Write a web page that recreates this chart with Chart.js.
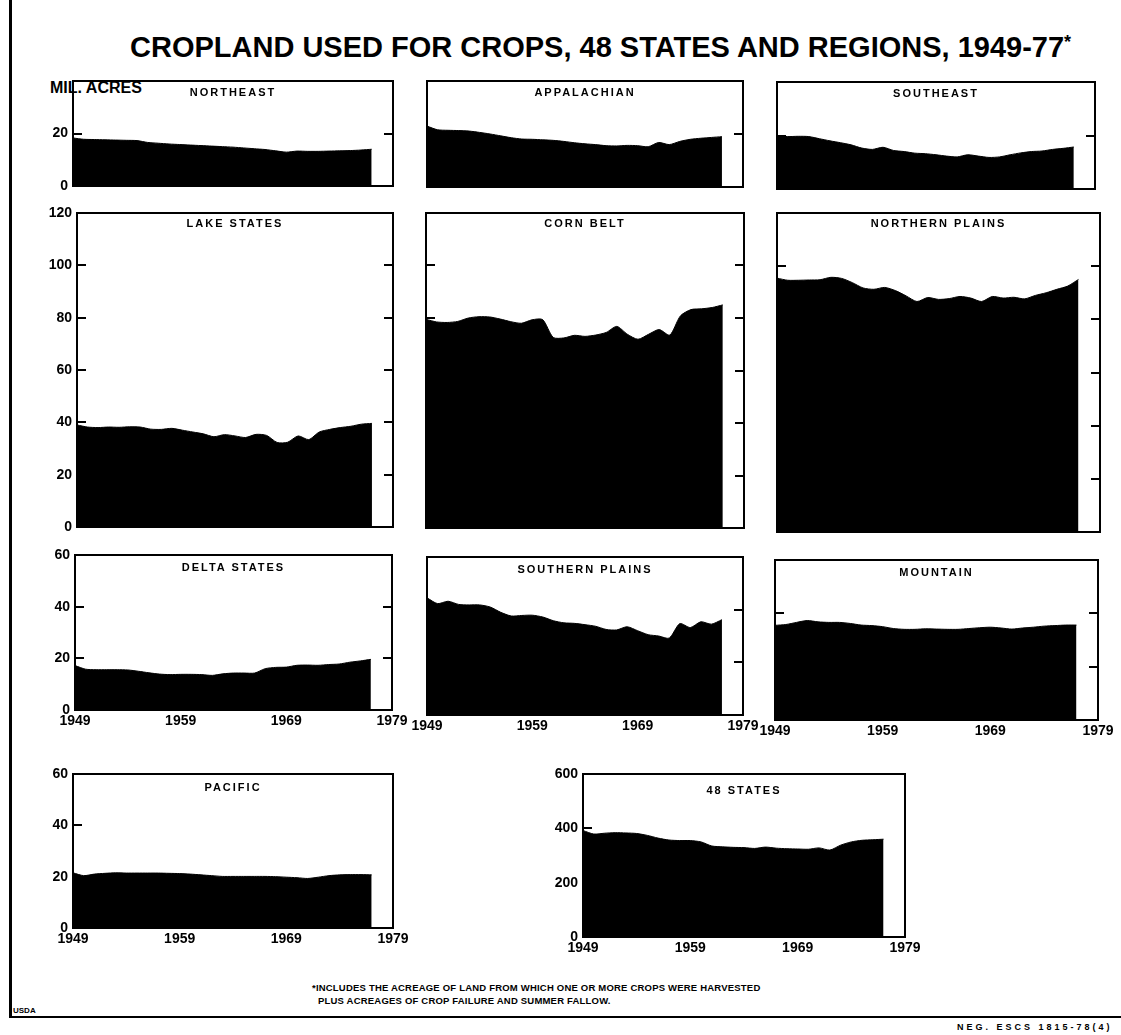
<!DOCTYPE html>
<html>
<head>
<meta charset="utf-8">
<script src="https://cdn.jsdelivr.net/npm/chart.js@4.4.0/dist/chart.umd.min.js"></script>
<style>
  body { margin: 0; background: #fff; }
  #page { position: relative; width: 1121px; height: 1035px; overflow: hidden; font-family: "Liberation Sans", Arial, sans-serif; color: #000; }
  .panel { position: absolute; }
  .txt { position: absolute; font-weight: bold; white-space: nowrap; line-height: 1; }
  .name { position: absolute; font-weight: bold; font-size: 11px; letter-spacing: 2px; text-align: center; line-height: 11px; }
  .rule { position: absolute; background: #000; }
</style>
</head>
<body>
<div id="page">
  <div class="rule" style="left:9px;top:0px;width:3px;height:1018px"></div>
  <div class="rule" style="left:9px;top:1016px;width:1112px;height:2px"></div>

  <div class="txt" style="left:130px;top:33px;font-size:29px">CROPLAND USED FOR CROPS, 48 STATES AND REGIONS, 1949-77<sup style="font-size:18px;vertical-align:9px">*</sup></div>
  <div class="txt" style="left:50px;top:80px;font-size:16px">MIL. ACRES</div>

  <div class="txt" style="left:312px;top:983px;font-size:9.5px;letter-spacing:0.2px">*INCLUDES THE ACREAGE OF LAND FROM WHICH ONE OR MORE CROPS WERE HARVESTED</div>
  <div class="txt" style="left:318px;top:996px;font-size:9.5px;letter-spacing:0.2px">PLUS ACREAGES OF CROP FAILURE AND SUMMER FALLOW.</div>
  <div class="txt" style="left:13px;top:1007px;font-size:8px">USDA</div>
  <div class="txt" style="left:957px;top:1023px;font-size:9px;letter-spacing:3px">NEG. ESCS 1815-78(4)</div>
</div>

<script>
// years on the x axis and the tick labels shown under the bottom panels
var years = [1949, 1950, 1951, 1952, 1953, 1954, 1955, 1956, 1957, 1958,
             1959, 1960, 1961, 1962, 1963, 1964, 1965, 1966, 1967, 1968,
             1969, 1970, 1971, 1972, 1973, 1974, 1975, 1976, 1977];
var yearTicks = [1949, 1959, 1969, 1979];

// million acres
var northeast = [18.3, 17.8, 17.7, 17.6, 17.5, 17.4, 17.3, 16.6, 16.3, 16.0,
                 15.8, 15.6, 15.4, 15.2, 15.0, 14.8, 14.5, 14.2, 13.9, 13.4,
                 12.9, 13.3, 13.2, 13.2, 13.3, 13.4, 13.5, 13.7, 14.0];
var appalachian = [23.0, 21.6, 21.4, 21.3, 21.1, 20.6, 20.0, 19.3, 18.6, 18.1,
                   18.0, 17.8, 17.6, 17.2, 16.7, 16.3, 16.0, 15.6, 15.5, 15.7,
                   15.6, 15.2, 16.8, 16.0, 17.2, 18.0, 18.4, 18.7, 19.0];
var southeast = [20.0, 19.6, 19.7, 19.6, 18.8, 18.0, 17.3, 16.5, 15.3, 14.8,
                 15.6, 14.4, 14.0, 13.4, 13.2, 12.8, 12.3, 12.0, 12.8, 12.3,
                 11.8, 12.0, 12.8, 13.5, 14.0, 14.2, 14.8, 15.2, 15.7];
var lakeStates = [39.0, 38.2, 38.0, 38.2, 38.1, 38.3, 38.2, 37.4, 37.3, 37.7,
                  37.0, 36.3, 35.6, 34.5, 35.3, 34.8, 34.2, 35.4, 35.0, 32.3,
                  32.4, 34.8, 33.4, 36.3, 37.3, 38.0, 38.5, 39.3, 39.6];
var cornBelt = [79.5, 78.5, 78.3, 78.7, 80.0, 80.5, 80.4, 79.6, 78.6, 78.0,
                79.3, 79.4, 72.6, 72.4, 73.4, 73.0, 73.5, 74.5, 76.8, 73.8,
                71.9, 73.8, 75.6, 73.5, 80.8, 83.2, 83.5, 84.0, 85.0];
var northernPlains = [95.5, 94.7, 94.7, 94.8, 94.9, 95.8, 95.4, 93.8, 91.8, 91.3,
                      92.0, 90.8, 88.8, 86.7, 88.2, 87.5, 87.8, 88.6, 88.0, 86.7,
                      88.6, 88.0, 88.3, 87.7, 89.0, 90.0, 91.3, 92.5, 95.0];
var deltaStates = [17.2, 15.8, 15.6, 15.6, 15.6, 15.5, 15.0, 14.4, 13.9, 13.7,
                   13.8, 13.8, 13.7, 13.4, 14.0, 14.3, 14.3, 14.3, 16.0, 16.5,
                   16.6, 17.3, 17.4, 17.3, 17.6, 17.8, 18.5, 19.0, 19.6];
var southernPlains = [44.5, 42.3, 43.2, 42.0, 41.8, 41.8, 41.0, 39.0, 37.6, 37.8,
                      37.9, 37.2, 35.8, 35.0, 34.8, 34.3, 33.7, 32.5, 32.3, 33.5,
                      32.0, 30.5, 30.0, 29.2, 34.7, 33.2, 35.4, 34.5, 36.2];
var mountain = [35.5, 35.8, 36.6, 37.3, 36.8, 36.6, 36.6, 36.2, 35.6, 35.4,
                35.0, 34.3, 34.0, 34.0, 34.2, 34.1, 34.0, 34.0, 34.3, 34.6,
                34.8, 34.5, 34.1, 34.5, 34.8, 35.2, 35.4, 35.6, 35.6];
var pacific = [21.5, 20.4, 21.0, 21.3, 21.5, 21.4, 21.4, 21.4, 21.4, 21.3,
               21.2, 21.0, 20.7, 20.4, 20.1, 20.1, 20.1, 20.1, 20.1, 20.0,
               19.8, 19.6, 19.3, 19.8, 20.4, 20.7, 20.8, 20.8, 20.7];
var states48 = [392, 379, 382, 384, 383, 381, 374, 364, 357, 355,
                355, 350, 335, 332, 330, 329, 326, 331, 327, 325,
                324, 323, 328, 320, 338, 350, 356, 358, 360];

// room around each plot box for the axis labels
var LPAD = 45, RPAD = 25, TPAD = 8, BPAD = 24;

// box = [left, top, right, bottom] of the framed plot area
var panels = [
  { name: 'NORTHEAST', values: northeast, max: 40, step: 20, box: [73, 81, 393, 186], yLab: true, xLab: false, right: true, hideTop: true, nameTop: 6 },
  { name: 'APPALACHIAN', values: appalachian, max: 40, step: 20, box: [427, 81, 743, 187], yLab: false, xLab: false, right: true, nameTop: 6 },
  { name: 'SOUTHEAST', values: southeast, max: 40, step: 20, box: [777, 82, 1095, 189], yLab: false, xLab: false, right: true, nameTop: 6 },
  { name: 'LAKE STATES', values: lakeStates, max: 120, step: 20, box: [77, 213, 393, 527], yLab: true, xLab: false, right: true, nameTop: 5 },
  { name: 'CORN BELT', values: cornBelt, max: 120, step: 20, box: [426, 213, 744, 528], yLab: false, xLab: false, right: true, nameTop: 5 },
  { name: 'NORTHERN PLAINS', values: northernPlains, max: 120, step: 20, box: [777, 213, 1100, 532], yLab: false, xLab: false, right: true, nameTop: 5 },
  { name: 'DELTA STATES', values: deltaStates, max: 60, step: 20, box: [75, 555, 392, 710], yLab: true, xLab: true, right: true, nameTop: 7 },
  { name: 'SOUTHERN PLAINS', values: southernPlains, max: 60, step: 20, box: [427, 557, 743, 715], yLab: false, xLab: true, right: true, nameTop: 7 },
  { name: 'MOUNTAIN', values: mountain, max: 60, step: 20, box: [775, 560, 1098, 720], yLab: false, xLab: true, right: true, nameTop: 7 },
  { name: 'PACIFIC', values: pacific, max: 60, step: 20, box: [73, 774, 393, 928], yLab: true, xLab: true, right: false, nameTop: 8 },
  { name: '48 STATES', values: states48, max: 600, step: 200, box: [583, 774, 905, 937], yLab: true, xLab: true, right: false, nameTop: 11 }
];

Chart.defaults.font.family = '"Liberation Sans", Arial, sans-serif';
Chart.defaults.color = '#000';

// black frame round the plot area
var framePlugin = {
  id: 'frame',
  afterDraw: function (chart) {
    var a = chart.chartArea, c = chart.ctx;
    c.save();
    c.strokeStyle = '#000';
    c.lineWidth = 2;
    c.strokeRect(a.left, a.top, a.right - a.left, a.bottom - a.top);
    c.restore();
  }
};

var page = document.getElementById('page');

panels.forEach(function (p) {
  var w = p.box[2] - p.box[0], h = p.box[3] - p.box[1];
  var div = document.createElement('div');
  div.className = 'panel';
  div.style.left = (p.box[0] - LPAD) + 'px';
  div.style.top = (p.box[1] - TPAD) + 'px';
  div.style.width = (w + LPAD + RPAD) + 'px';
  div.style.height = (h + TPAD + BPAD) + 'px';
  var canvas = document.createElement('canvas');
  div.appendChild(canvas);
  page.appendChild(div);

  var label = document.createElement('div');
  label.className = 'name';
  label.style.left = p.box[0] + 'px';
  label.style.width = w + 'px';
  label.style.top = (p.box[1] + p.nameTop) + 'px';
  label.textContent = p.name;
  page.appendChild(label);

  var points = years.map(function (yr, i) { return { x: yr, y: p.values[i] }; });

  new Chart(canvas.getContext('2d'), {
    type: 'line',
    data: {
      datasets: [{
        data: points,
        fill: 'origin',
        backgroundColor: '#000',
        borderColor: '#000',
        borderWidth: 1,
        pointRadius: 0,
        tension: 0.25
      }]
    },
    options: {
      responsive: true,
      maintainAspectRatio: false,
      animation: false,
      events: [],
      layout: { padding: { top: TPAD, left: 0, right: 0, bottom: 0 } },
      plugins: { legend: { display: false }, tooltip: { enabled: false } },
      scales: {
        x: {
          type: 'linear',
          position: 'bottom',
          min: yearTicks[0],
          max: yearTicks[yearTicks.length - 1],
          afterBuildTicks: function (s) { s.ticks = yearTicks.map(function (v) { return { value: v }; }); },
          ticks: {
            display: p.xLab,
            autoSkip: false,
            maxRotation: 0,
            padding: 3,
            font: { size: 14, weight: 'bold' },
            callback: function (v) { return String(v); }
          },
          grid: { display: false, drawTicks: false },
          border: { display: false },
          afterFit: function (s) { s.height = BPAD; s.paddingLeft = 0; s.paddingRight = 0; }
        },
        y: {
          position: 'left',
          min: 0,
          max: p.max,
          ticks: {
            display: p.yLab,
            stepSize: p.step,
            padding: 14,
            font: { size: 14, weight: 'bold' },
            callback: function (v) { return (p.hideTop && v === p.max) ? '' : String(v); }
          },
          grid: { drawOnChartArea: false, tickLength: -9, lineWidth: 2, color: '#000' },
          border: { display: false },
          afterFit: function (s) { s.width = LPAD; s.paddingTop = 0; s.paddingBottom = 0; }
        },
        y2: {
          position: 'right',
          min: 0,
          max: p.max,
          ticks: { display: false, stepSize: p.step },
          grid: { display: p.right, drawOnChartArea: false, tickLength: -9, lineWidth: 2, color: '#000' },
          border: { display: false },
          afterFit: function (s) { s.width = RPAD; }
        }
      }
    },
    plugins: [framePlugin]
  });
});
</script>
</body>
</html>
